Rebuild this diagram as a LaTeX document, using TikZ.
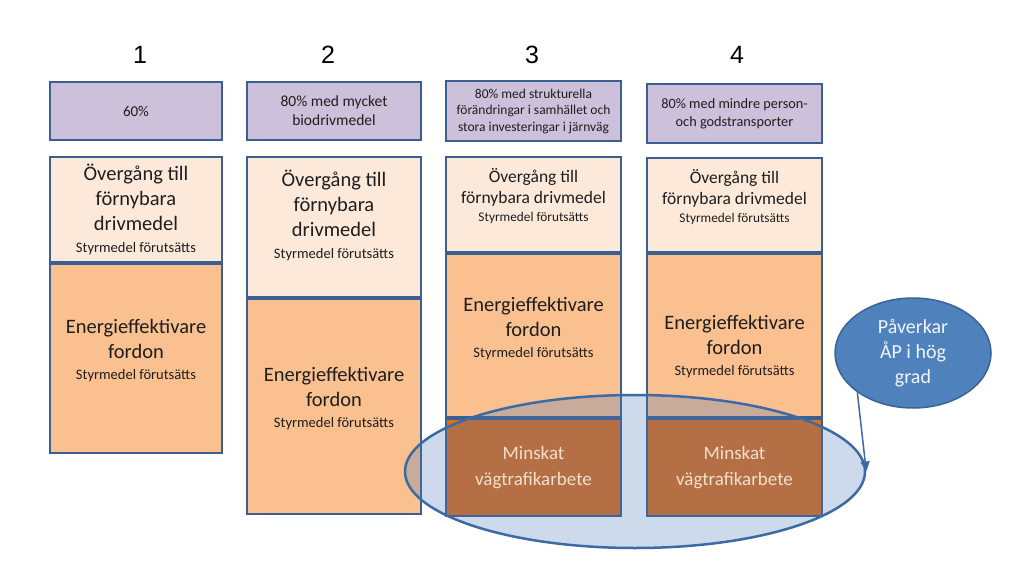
\documentclass[tikz,border=0pt]{standalone}
\usepackage{fontspec}
\setmainfont{Carlito}
\newfontfamily\numfont{Liberation Sans}
\usepackage{tikz}
\usetikzlibrary{arrows.meta, positioning, shapes.geometric}

\definecolor{boxblue}{RGB}{60,95,145}
\definecolor{purplefill}{RGB}{204,192,218}
\definecolor{lightfill}{RGB}{253,233,217}
\definecolor{orangefill}{RGB}{250,192,144}
\definecolor{brownfill}{RGB}{222,110,25}
\definecolor{ellblue}{RGB}{68,118,186}
\definecolor{ellline}{RGB}{60,106,165}
\definecolor{pavblue}{RGB}{79,129,189}
\definecolor{pavline}{RGB}{58,100,150}
\definecolor{txtdark}{RGB}{30,30,30}
\definecolor{minsktxt}{RGB}{245,222,205}

\newcommand{\txtbig}{\fontsize{20.5}{25}\selectfont}
\newcommand{\txtmid}{\fontsize{17.5}{21}\selectfont}
\newcommand{\txtsmall}{\fontsize{14.5}{17}\selectfont}
\newcommand{\txttiny}{\fontsize{13.3}{16}\selectfont}

\tikzset{
  pbox/.style={draw=boxblue, fill=purplefill, line width=2pt, inner sep=0pt,
    text=txtdark, align=center},
  lbox/.style={draw=boxblue, fill=lightfill, line width=2pt, inner sep=0pt},
  obox/.style={draw=boxblue, fill=orangefill, line width=2pt, inner sep=0pt},
  bbox/.style={draw=boxblue, fill=brownfill, line width=2pt, inner sep=0pt},
  txt/.style={text=txtdark, align=center, inner sep=0pt, font=\txtbig},
  mtxt/.style={text=minsktxt, align=center, inner sep=0pt,
    font=\fontsize{19}{26}\selectfont},
  numtxt/.style={inner sep=0pt, font=\numfont\fontsize{25}{30}\selectfont},
  bigell/.style={ellipse, draw=ellline, line width=2.5pt, fill=ellblue,
    fill opacity=0.27, draw opacity=1, inner sep=0pt},
  pavell/.style={ellipse, draw=pavline, line width=1.5pt, fill=pavblue,
    text=white!92!pavblue, align=center, inner sep=0pt,
    font=\fontsize{20}{25}\selectfont},
  arrowline/.style={draw=ellline, line width=1.5pt,
    -{Triangle[length=10pt, width=9pt]}}
}

\begin{document}
\begin{tikzpicture}[x=1pt, y=-1pt]
\useasboundingbox (0,0) rectangle (1024,564);

% column 1
\node[numtxt] (n1) at (140,55) {1};
\node[pbox, minimum width=172pt, minimum height=58pt,
  font=\fontsize{15}{19}\selectfont] (p1) at (136,111) {60\%};
\node[lbox, minimum width=172pt, minimum height=105pt] (l1) at (136,209.5) {};
\node[obox, minimum width=172pt, minimum height=189pt, below=0pt of l1] (o1) {};

% column 2
\node[numtxt] (n2) at (328,55) {2};
\node[pbox, minimum width=174pt, minimum height=58pt,
  font=\fontsize{15.5}{19}\selectfont] (p2) at (334,111)
  {80\% med mycket\\biodrivmedel};
\node[lbox, minimum width=174pt, minimum height=140pt] (l2) at (334,227) {};
\node[obox, minimum width=174pt, minimum height=215pt, below=0pt of l2] (o2) {};

% column 3
\node[numtxt] (n3) at (532,55) {3};
\node[pbox, minimum width=175pt, minimum height=60pt,
  font=\fontsize{13.5}{16.5}\selectfont] (p3) at (533.5,111)
  {80\% med strukturella\\förändringar i samhället och\\stora investeringar i järnväg};
\node[lbox, minimum width=175pt, minimum height=95pt] (l3) at (533.5,204.5) {};
\node[obox, minimum width=175pt, minimum height=163pt, below=0pt of l3] (o3) {};
\node[bbox, minimum width=175pt, minimum height=97pt, below=0pt of o3] (b3) {};

% column 4
\node[numtxt] (n4) at (737,55) {4};
\node[pbox, minimum width=175pt, minimum height=59pt,
  font=\fontsize{14.3}{18}\selectfont] (p4) at (734.5,113.5)
  {80\% med mindre person-\\och godstransporter};
\node[lbox, minimum width=175pt, minimum height=94pt] (l4) at (734.5,205) {};
\node[obox, minimum width=175pt, minimum height=163pt, below=0pt of l4] (o4) {};
\node[bbox, minimum width=175pt, minimum height=97pt, below=0pt of o4] (b4) {};

% ring round the two last columns
\node[bigell, minimum width=460pt, minimum height=153pt] (ell) at (635,471.5) {};

% texts
\node[txt] (l1t) at (l1) {Övergång till\\förnybara\\drivmedel\\[-3pt]\txtsmall Styrmedel förutsätts};
\node[txt] (o1t) at ([yshift=8pt]o1.center) {Energieffektivare\\fordon\\[-4pt]\txtsmall Styrmedel förutsätts};
\node[txt] (l2t) at ([yshift=12pt]l2.center) {Övergång till\\förnybara\\drivmedel\\[-3pt]\txtsmall Styrmedel förutsätts};
\node[txt] (o2t) at ([yshift=8pt]o2.center) {Energieffektivare\\fordon\\[-4pt]\txtsmall Styrmedel förutsätts};
\node[txt, font=\txtmid] (l3t) at ([yshift=8pt]l3.center) {Övergång till\\förnybara drivmedel\\[-3pt]\txttiny Styrmedel förutsätts};
\node[txt] (o3t) at ([yshift=7pt]o3.center) {Energieffektivare\\fordon\\[-4pt]\txtsmall Styrmedel förutsätts};
\node[txt, font=\txtmid] (l4t) at ([yshift=8pt]l4.center) {Övergång till\\förnybara drivmedel\\[-3pt]\txttiny Styrmedel förutsätts};
\node[txt] (o4t) at ([yshift=-11pt]o4.center) {Energieffektivare\\fordon\\[-4pt]\txtsmall Styrmedel förutsätts};
\node[mtxt] (b3t) at (b3) {Minskat\\vägtrafikarbete};
\node[mtxt] (b4t) at (b4) {Minskat\\vägtrafikarbete};

% callout
\node[pavell, minimum width=156pt, minimum height=110pt] (pav) at (913,353)
  {Påverkar\\ÅP i hög\\grad};
\draw[arrowline] (pav.south west) -- (ell.east);
\end{tikzpicture}
\end{document}
